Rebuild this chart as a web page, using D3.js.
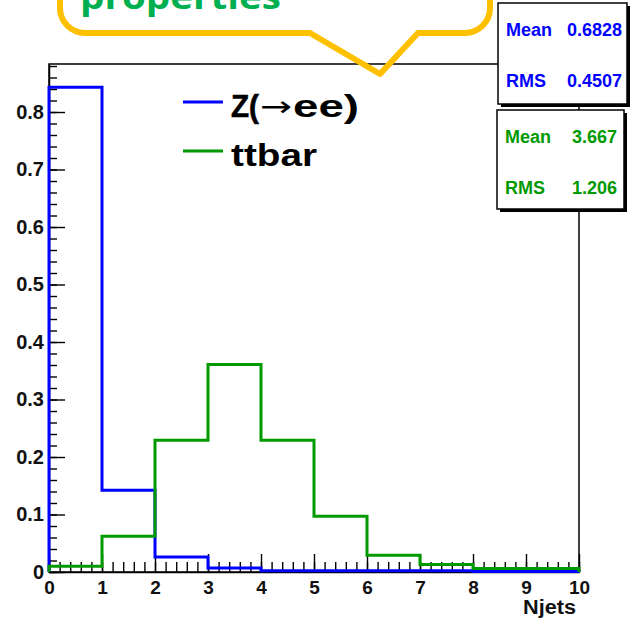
<!DOCTYPE html>
<html>
<head>
<meta charset="utf-8">
<script src="https://cdn.jsdelivr.net/npm/d3@7"></script>
<style>
  html, body { margin: 0; padding: 0; background: #fff; }
  svg { display: block; font-family: "Liberation Sans", Arial, sans-serif; font-weight: bold; }
</style>
</head>
<body>
<div id="chart"></div>
<script>
// Njets histograms (bin i covers [i, i+1))
let njetsBins = [0, 1, 2, 3, 4, 5, 6, 7, 8, 9];
let zeeValues = [0.843, 0.142, 0.026, 0.007, 0.002, 0.002, 0.002, 0.002, 0.001, 0.001];
let ttbarValues = [0.010, 0.062, 0.229, 0.361, 0.229, 0.097, 0.029, 0.013, 0.006, 0.006];

let seriesNames = ['Z(\u2192ee)', 'ttbar'];
let statLabels = ['Mean', 'RMS'];
let zeeStats = ['0.6828', '0.4507'];
let ttbarStats = ['3.667', '1.206'];

let xMajorTicks = [0, 1, 2, 3, 4, 5, 6, 7, 8, 9, 10];
let yMajorTicks = [0, 0.1, 0.2, 0.3, 0.4, 0.5, 0.6, 0.7, 0.8];
let xTitle = 'Njets';
let calloutText = 'properties';

let width = 630, height = 623;
let blue = '#0000ff', green = '#009a00', orange = '#ffc000';

let svg = d3.select('#chart').append('svg').attr('width', width).attr('height', height);

let x = d3.scaleLinear().domain([0, 10]).range([49, 579]);
let y = d3.scaleLinear().domain([0, 0.8835]).range([572, 64]);

let plot = svg.append('g').attr('class', 'plot');

// frame
plot.append('rect')
  .attr('x', x(0)).attr('y', y(0.8835))
  .attr('width', x(10) - x(0)).attr('height', y(0) - y(0.8835))
  .attr('fill', 'none').attr('stroke', '#000').attr('stroke-width', 1.5);

// minor ticks
let yMinor = d3.range(0, 0.8801, 0.02).map(d => +d.toFixed(2));
let xMinor = d3.range(0, 10.001, 0.2).map(d => +d.toFixed(1));

plot.append('g')
  .attr('transform', 'translate(' + [x(0), 0] + ')')
  .call(d3.axisLeft(y).tickValues(yMinor).tickSize(-8).tickSizeOuter(0).tickFormat(''))
  .call(g => g.select('.domain').remove());

plot.append('g')
  .attr('transform', 'translate(' + [0, y(0)] + ')')
  .call(d3.axisBottom(x).tickValues(xMinor).tickSize(-10).tickSizeOuter(0).tickFormat(''))
  .call(g => g.select('.domain').remove());

// major ticks + labels
let yAxis = plot.append('g')
  .attr('transform', 'translate(' + [x(0), 0] + ')')
  .call(d3.axisLeft(y).tickValues(yMajorTicks).tickSize(-16).tickSizeOuter(0).tickPadding(5)
    .tickFormat(d => d === 0 ? '0' : d3.format('.1f')(d)));
yAxis.select('.domain').attr('stroke-width', 1.5);

let xAxis = plot.append('g')
  .attr('transform', 'translate(' + [0, y(0)] + ')')
  .call(d3.axisBottom(x).tickValues(xMajorTicks).tickSize(-18).tickSizeOuter(0).tickPadding(9)
    .tickFormat(d3.format('d')));
xAxis.select('.domain').attr('stroke-width', 1.5);

plot.selectAll('.tick line').attr('stroke', '#000').attr('stroke-width', 1.4);
yAxis.selectAll('.tick text').attr('font-size', 20).attr('font-weight', 'bold').attr('fill', '#111');
xAxis.selectAll('.tick text').attr('font-size', 19).attr('font-weight', 'bold').attr('fill', '#111');

svg.append('text')
  .attr('x', x(10) - 3).attr('y', 614)
  .attr('text-anchor', 'end')
  .attr('font-size', 20)
  .attr('textLength', 53).attr('lengthAdjust', 'spacingAndGlyphs')
  .attr('fill', '#111')
  .text(xTitle);

// histograms as step lines
function stepPath(values){
  let p = d3.path();
  p.moveTo(x(0), y(0));
  values.forEach((v, i) => {
    p.lineTo(x(njetsBins[i]), y(v));
    p.lineTo(x(njetsBins[i] + 1), y(v));
  });
  p.lineTo(x(10), y(0));
  return p.toString();
}

plot.append('path').attr('d', stepPath(zeeValues))
  .attr('fill', 'none').attr('stroke', blue).attr('stroke-width', 3);
plot.append('path').attr('d', stepPath(ttbarValues))
  .attr('fill', 'none').attr('stroke', green).attr('stroke-width', 3);

// legend
let legend = svg.append('g').attr('class', 'legend');
let legendRows = [
  {name: seriesNames[0], color: blue, y: 102, base: 117},
  {name: seriesNames[1], color: green, y: 151, base: 166}
];
legendRows.forEach(r => {
  legend.append('line')
    .attr('x1', 183).attr('x2', 223).attr('y1', r.y).attr('y2', r.y)
    .attr('stroke', r.color).attr('stroke-width', 3);
});
// Z(->ee) in pieces so the long arrow matches
let zParts = seriesNames[0].split('\u2192');
legend.append('text')
  .attr('x', 231).attr('y', legendRows[0].base)
  .attr('font-size', 32).attr('textLength', 28).attr('lengthAdjust', 'spacingAndGlyphs')
  .attr('stroke', '#000').attr('stroke-width', 0.6)
  .text(zParts[0]);
legend.append('text')
  .attr('x', 260).attr('y', legendRows[0].base - 1)
  .attr('font-family', '"DejaVu Sans", sans-serif').attr('font-weight', 'normal')
  .attr('font-size', 28).attr('textLength', 32).attr('lengthAdjust', 'spacingAndGlyphs')
  .text('\u2192');
legend.append('text')
  .attr('x', 293).attr('y', legendRows[0].base)
  .attr('font-size', 32).attr('textLength', 66).attr('lengthAdjust', 'spacingAndGlyphs')
  .text(zParts[1]);
legend.append('text')
  .attr('x', 231).attr('y', legendRows[1].base)
  .attr('font-size', 32).attr('textLength', 86).attr('lengthAdjust', 'spacingAndGlyphs')
  .text(seriesNames[1]);

// stat boxes
function statBox(bx, by, bw, bh, color, values, numRight){
  let g = svg.append('g').attr('class', 'statbox');
  g.append('rect').attr('x', bx + 3).attr('y', by + 3).attr('width', bw).attr('height', bh).attr('fill', '#000');
  g.append('rect').attr('x', bx).attr('y', by).attr('width', bw).attr('height', bh)
    .attr('fill', '#fff').attr('stroke', '#000').attr('stroke-width', 1.5);
  statLabels.forEach((lab, i) => {
    let base = by + 33 + i * 51;
    g.append('text').attr('x', bx + 8).attr('y', base)
      .attr('font-size', 18).attr('fill', color).text(lab);
    g.append('text').attr('x', numRight).attr('y', base)
      .attr('text-anchor', 'end')
      .attr('font-size', 18).attr('fill', color).text(values[i]);
  });
}
statBox(498, 3, 129, 101, blue, zeeStats, 622);
statBox(497, 110, 127, 99, green, ttbarStats, 617);

// callout bubble (top of slide)
let callout = svg.append('g').attr('class', 'callout');
let cp = d3.path();
let r = 25, bY = 33, lX = 60, rX = 490;
cp.moveTo(lX, -60);
cp.lineTo(lX, bY - r);
cp.arcTo(lX, bY, lX + r, bY, r);
cp.lineTo(310, bY);
cp.lineTo(380, 74);
cp.lineTo(418, bY);
cp.lineTo(rX - r, bY);
cp.arcTo(rX, bY, rX, bY - r, r);
cp.lineTo(rX, -60);
callout.append('path').attr('d', cp.toString())
  .attr('fill', 'none').attr('stroke', orange).attr('stroke-width', 6)
  .attr('stroke-linejoin', 'round');
callout.append('text')
  .attr('x', 80).attr('y', 9)
  .attr('font-family', '"Open Sans", sans-serif')
  .attr('font-size', 34)
  .attr('textLength', 201).attr('lengthAdjust', 'spacingAndGlyphs')
  .attr('fill', '#00b050')
  .text(calloutText);
</script>
</body>
</html>
